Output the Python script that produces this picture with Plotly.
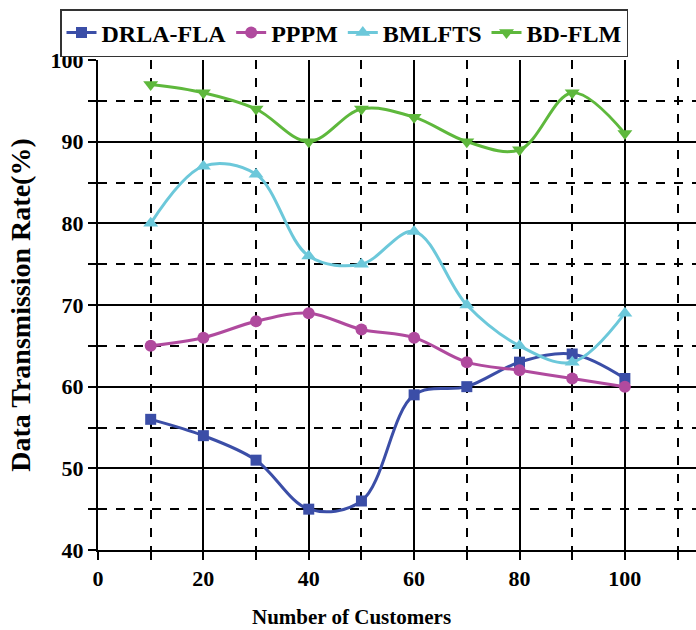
import plotly.graph_objects as go

customers = [10, 20, 30, 40, 50, 60, 70, 80, 90, 100]
drla_fla = [56, 54, 51, 45, 46, 59, 60, 63, 64, 61]
pppm = [65, 66, 68, 69, 67, 66, 63, 62, 61, 60]
bmlfts = [80, 87, 86, 76, 75, 79, 70, 65, 63, 69]
bd_flm = [97, 96, 94, 90, 94, 93, 90, 89, 96, 91]

series = [
    ("DRLA-FLA", drla_fla, "#3B4EA7", "square", 11),
    ("PPPM", pppm, "#B04A9E", "circle", 12),
    ("BMLFTS", bmlfts, "#6CC8DA", "triangle-up", 13),
    ("BD-FLM", bd_flm, "#5EB83C", "triangle-down", 13),
]

FONT = "Liberation Serif, Times New Roman, serif"

fig = go.Figure()
for name, vals, color, sym, size in series:
    fig.add_trace(go.Scatter(
        x=customers, y=vals, name=name, mode="lines+markers",
        line=dict(color=color, width=3, shape="spline", smoothing=1),
        marker=dict(symbol=sym, size=size, color=color),
    ))

axis_common = dict(
    showline=True, linecolor="black", linewidth=2,
    ticks="outside", ticklen=8, tickwidth=2, tickcolor="black",
    showgrid=True, gridcolor="black", gridwidth=2,
    zeroline=False,
    tickfont=dict(family=FONT, size=22, color="black", weight="bold"),
)

fig.update_xaxes(
    range=[0, 113.5], tick0=0, dtick=20,
    minor=dict(dtick=10, tick0=0, showgrid=True, gridcolor="black", gridwidth=2,
               griddash="dash", ticks="outside", ticklen=8, tickwidth=2, tickcolor="black"),
    **axis_common,
)
fig.update_yaxes(
    range=[40, 100], tick0=40, dtick=10,
    minor=dict(dtick=5, tick0=40, showgrid=True, gridcolor="black", gridwidth=2,
               griddash="dash", ticks="outside", ticklen=8, tickwidth=2, tickcolor="black"),
    title=dict(text="Data Transmission Rate(%)", standoff=12,
               font=dict(family=FONT, size=28, color="black", weight="bold")),
    **axis_common,
)

fig.add_annotation(
    text="Number of Customers", xref="paper", yref="paper",
    x=(351 - 98) / 598, y=-(617 - 550) / 490, xanchor="center", yanchor="middle",
    showarrow=False,
    font=dict(family=FONT, size=21, color="black", weight="bold"),
)

fig.update_layout(
    width=696, height=630,
    margin=dict(l=98, r=0, t=60, b=80, autoexpand=False),
    plot_bgcolor="white", paper_bgcolor="white",
    showlegend=True,
    legend=dict(
        orientation="h", xref="container", yref="container",
        x=60 / 696, xanchor="left", y=1 - 9 / 630, yanchor="top",
        bordercolor="#333333", borderwidth=1.5, bgcolor="white",
        font=dict(family=FONT, size=24, color="black", weight="bold"),
        itemwidth=30, tracegroupgap=0,
    ),
)

fig.write_html("out.html")
